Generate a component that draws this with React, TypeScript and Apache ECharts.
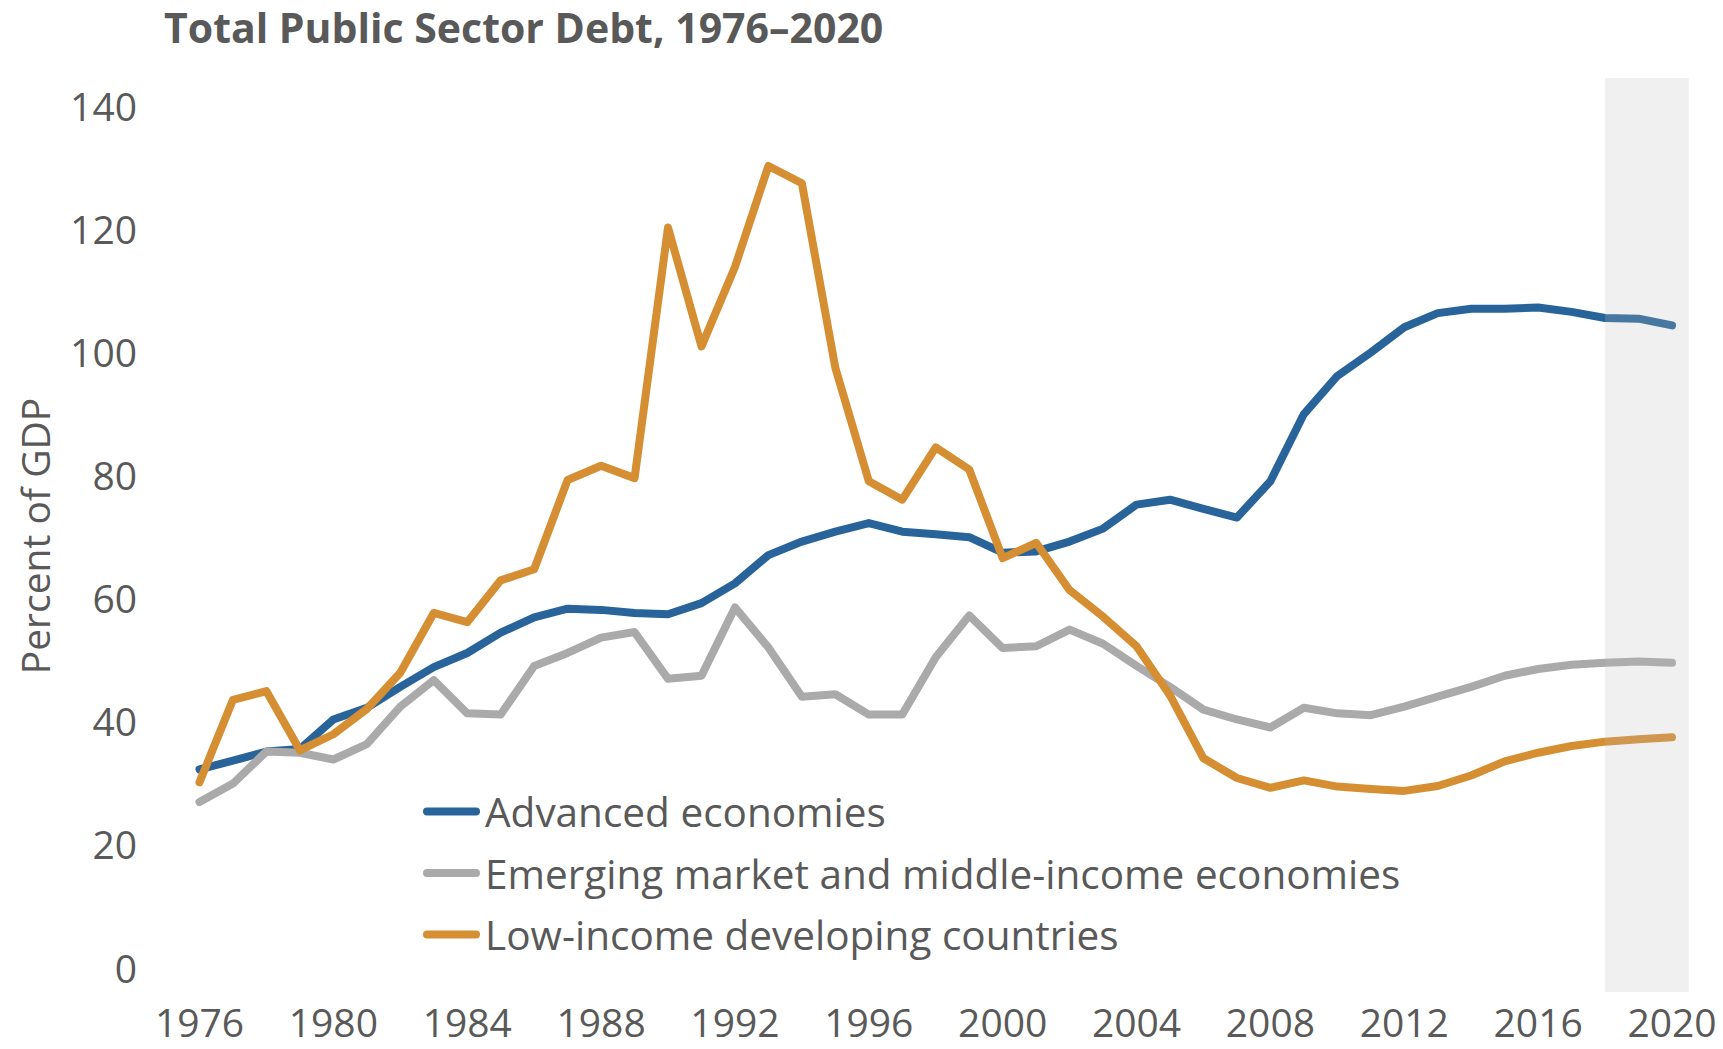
import React, { useEffect, useRef } from "react";
import * as echarts from "echarts";

const years = [
  1976, 1977, 1978, 1979, 1980, 1981, 1982, 1983, 1984, 1985, 1986, 1987, 1988, 1989, 1990,
  1991, 1992, 1993, 1994, 1995, 1996, 1997, 1998, 1999, 2000, 2001, 2002, 2003, 2004, 2005,
  2006, 2007, 2008, 2009, 2010, 2011, 2012, 2013, 2014, 2015, 2016, 2017, 2018, 2019, 2020,
];

const advanced = [
  32.1, 33.5, 35.0, 35.4, 40.2, 42.1, 45.5, 48.7, 51.0, 54.3, 56.8, 58.2, 58.0, 57.5, 57.3,
  59.1, 62.3, 66.9, 69.1, 70.7, 72.1, 70.7, 70.3, 69.8, 67.3, 67.5, 69.1, 71.2, 75.1, 75.9,
  74.4, 73.0, 78.9, 89.8, 96.0, 99.8, 103.9, 106.2, 106.9, 106.9, 107.1, 106.4, 105.4, 105.3, 104.2,
];

const emerging = [
  26.8, 29.8, 35.0, 34.8, 33.7, 36.2, 42.3, 46.6, 41.2, 41.0, 48.9, 51.0, 53.5, 54.4, 46.8,
  47.3, 58.4, 51.9, 43.9, 44.3, 41.0, 41.0, 50.3, 57.1, 51.8, 52.1, 54.8, 52.5, 48.9, 45.5,
  41.8, 40.2, 38.9, 42.1, 41.2, 40.9, 42.3, 43.9, 45.5, 47.3, 48.4, 49.1, 49.4, 49.6, 49.4,
];

const lowIncome = [
  30.0, 43.4, 44.8, 35.2, 37.8, 41.9, 47.8, 57.5, 56.0, 62.8, 64.6, 79.1, 81.4, 79.4, 120.1,
  100.8, 113.7, 130.1, 127.3, 97.3, 78.9, 75.9, 84.4, 80.8, 66.4, 68.9, 61.2, 56.9, 52.1, 44.1,
  33.9, 30.7, 29.1, 30.3, 29.3, 28.9, 28.6, 29.4, 31.1, 33.4, 34.8, 35.9, 36.6, 37.0, 37.3,
];

const seriesNames = [
  "Advanced economies",
  "Emerging market and middle-income economies",
  "Low-income developing countries",
];
const seriesColors = ["#28649A", "#AAAAAA", "#D68E32"];

const titleText = "Total Public Sector Debt, 1976\u20132020";
const yAxisName = "Percent of GDP";
const projectionStart = 2018;
const projectionEnd = 2020.5;
const shadeBottom = -4.06;
const shadeTop = 144.4;

const FONT = "'Open Sans', 'Noto Sans', sans-serif";
const TEXT_COLOR = "#595959";
const LEGEND_ICON = "path://M4,0 H53 A4,4 0 0 1 53,8 H4 A4,4 0 0 1 4,0 Z";

export default function App() {
  const ref = useRef<HTMLDivElement>(null);

  useEffect(() => {
    if (!ref.current) return;
    const chart = echarts.init(ref.current, null, { renderer: "svg" });
    const toPairs = (arr: number[]) => years.map((y, i) => [y, arr[i]]);
    const values = [advanced, emerging, lowIncome];

    chart.setOption({
      animation: false,
      backgroundColor: "#ffffff",
      textStyle: { fontFamily: FONT },
      title: {
        text: titleText,
        left: 164,
        top: 6,
        padding: 0,
        textStyle: {
          fontFamily: FONT,
          fontSize: 41,
          fontWeight: "bold",
          color: TEXT_COLOR,
        },
      },
      grid: { left: 199.5, right: 51, top: 105, bottom: 82, containLabel: false },
      legend: {
        data: seriesNames.map((name) => ({ name, icon: LEGEND_ICON })),
        orient: "vertical",
        left: 423,
        top: 791,
        padding: 0,
        itemWidth: 57,
        itemHeight: 8,
        itemGap: 20.5,
        textStyle: { fontFamily: FONT, fontSize: 40.5, color: TEXT_COLOR },
      },
      xAxis: {
        type: "value",
        min: 1976,
        max: 2020,
        interval: 4,
        axisLine: { show: false },
        axisTick: { show: false },
        splitLine: { show: false },
        axisLabel: {
          formatter: (v: number) => String(v),
          margin: 35,
          fontSize: 39,
          color: TEXT_COLOR,
          fontFamily: FONT,
        },
      },
      yAxis: {
        type: "value",
        min: 0,
        max: 140,
        interval: 20,
        name: yAxisName,
        nameLocation: "middle",
        nameRotate: 90,
        nameGap: 146,
        nameTextStyle: { fontSize: 39, color: TEXT_COLOR, fontFamily: FONT },
        axisLine: { show: false },
        axisTick: { show: false },
        splitLine: { show: false },
        axisLabel: { margin: 62.5, fontSize: 39, color: TEXT_COLOR, fontFamily: FONT },
      },
      series: seriesNames.map((name, i) => ({
        name,
        type: "line",
        data: toPairs(values[i]),
        symbol: "none",
        showSymbol: false,
        z: 2 + i,
        itemStyle: { color: seriesColors[i] },
        lineStyle: { width: 8, color: seriesColors[i], cap: "round", join: "round" },
      })),
    });

    const p1 = chart.convertToPixel({ xAxisIndex: 0, yAxisIndex: 0 }, [projectionStart, shadeTop]) as number[];
    const p2 = chart.convertToPixel({ xAxisIndex: 0, yAxisIndex: 0 }, [projectionEnd, shadeBottom]) as number[];
    chart.setOption({
      graphic: [
        {
          type: "rect",
          z: 100,
          silent: true,
          shape: { x: p1[0], y: p1[1], width: p2[0] - p1[0], height: p2[1] - p1[1] },
          style: { fill: "rgba(186,186,186,0.22)" },
        },
      ],
    });

    return () => chart.dispose();
  }, []);

  return (
    <div
      ref={ref}
      style={{ position: "absolute", left: 0, top: 0, width: 1723, height: 1049 }}
    />
  );
}
